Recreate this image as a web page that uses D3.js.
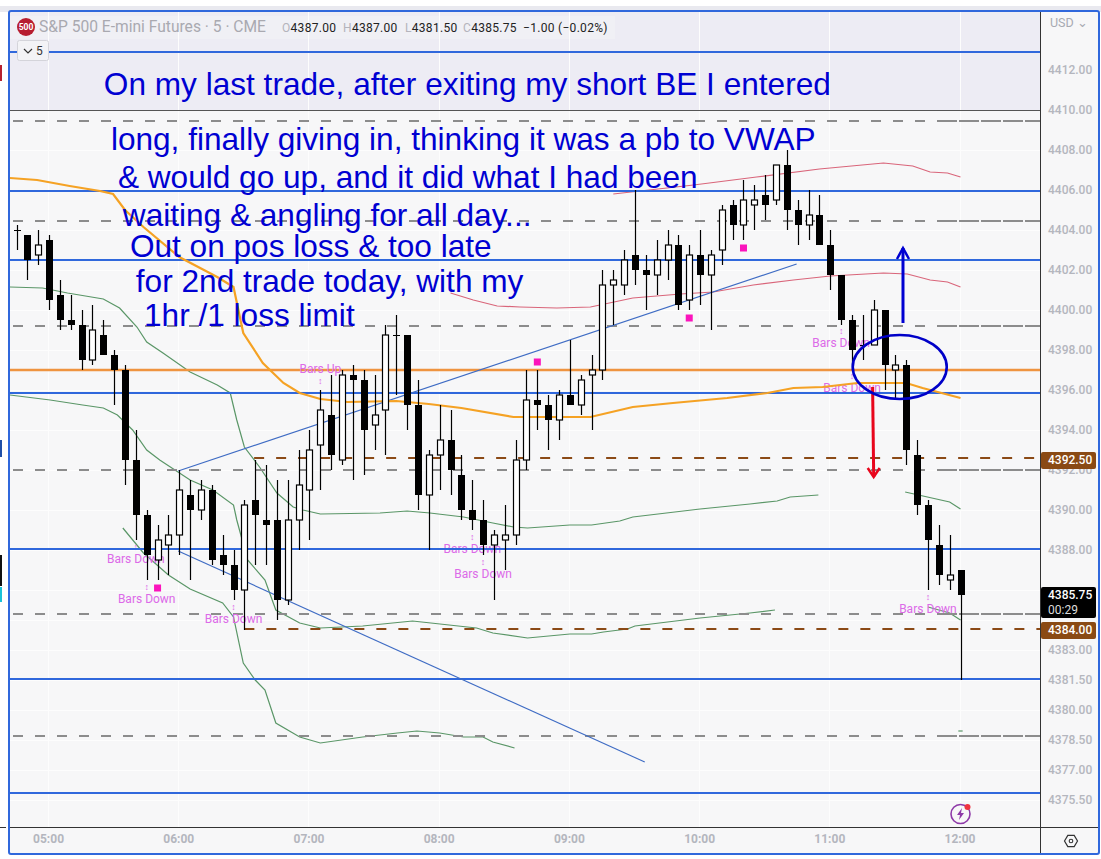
<!DOCTYPE html>
<html>
<head>
<meta charset="utf-8">
<script src="https://cdn.jsdelivr.net/npm/d3@7"></script>
<style>
    html, body { margin: 0; padding: 0; background: #fff; overflow: hidden; }
    svg { display: block; }
    text { font-family: Roboto, "Liberation Sans", sans-serif; }
    .note { font-family: "Liberation Sans", Arial, sans-serif; fill: #0000d2; font-size: 31.6px; }
    .signal { fill: #dc6ae8; font-size: 12px; text-anchor: middle; dominant-baseline: middle; }
</style>
</head>
<body>
<svg class="chart" width="1101" height="859"></svg>
<script>

// candles, 5 min bars, first one is 04:45
const bar_open = [4404,4403.75,4402.75,4403.5,4400.75,4399.5,4399.25,4397.5,4398.75,4397.75,4397,4392.5,4389.75,4387.5,4388.25,4388.75,4390.75,4390,4391,4387.75,4387.25,4386,4390.5,4389.5,4389.5,4385.5,4389.5,4391,4393.25,4394.75,4392.5,4396.75,4396.5,4394.25,4395,4398.75,4398.75,4395.25,4390.75,4392.75,4393.5,4391.75,4390,4389.5,4388.25,4388.5,4388.75,4392.5,4395.5,4395.25,4394.5,4395.75,4395.25,4396.75,4397,4401.25,4401.25,4402.75,4402,4401.75,4402.5,4403.25,4400.5,4402.75,4401.75,4403,4405.25,4404.25,4405.25,4405.75,4405.5,4407.25,4405,4404.25,4404.75,4403.25,4401.75,4399.5,4398.25,4398.25,4400,4397,4397.25,4392.75,4390.25,4388.25,4386.5,4387];
const bar_high = [4404.25,4403.75,4404,4403.75,4401.5,4400.75,4400,4400.25,4399.5,4398,4397.25,4394,4390,4389.25,4389.75,4392,4391.5,4391.5,4391.25,4388.75,4388,4390.5,4392.5,4392.25,4391.5,4391.5,4393,4394,4396,4396.75,4397,4397.25,4397,4396.75,4399.25,4399.75,4398.75,4396.5,4393,4395.25,4395,4392.75,4391.5,4390.5,4389,4390.25,4393.5,4397,4397,4395.75,4396,4398.5,4396.75,4397.75,4402,4402,4403,4406,4402.75,4403.5,4404,4403.75,4403.25,4404,4403,4405.25,4405.5,4406.5,4406.25,4406.75,4407.25,4408,4405.5,4406,4405.75,4404,4401.75,4399.75,4399.75,4400.5,4400,4397.75,4397.5,4393.5,4390.5,4389.25,4388.75,4387];
const bar_low = [4403,4401.5,4402.25,4400,4399,4399,4397,4397.25,4397.75,4395.25,4391.25,4388.5,4386.5,4386.5,4386.75,4387.75,4386.5,4389.5,4387.25,4386.75,4385.5,4384,4387.25,4387.25,4384.5,4385.25,4388,4388.5,4391,4392,4392.25,4391.5,4391.75,4393,4392.75,4395.75,4394,4390,4388,4391,4390.75,4389.5,4389,4387.75,4385.5,4387,4388.25,4392,4394,4393,4393.5,4395.25,4394.75,4394,4396.5,4399.25,4400.75,4401.25,4400,4400.75,4401.5,4400,4400,4400.25,4399,4402.25,4403.5,4403.5,4404,4404.5,4405.25,4404,4403.25,4403.5,4403.25,4401,4399.25,4397,4397.5,4398.25,4396,4395.5,4392.25,4389.75,4386,4386.25,4386,4381.5];
const bar_close = [4404,4402.5,4403.25,4400.5,4399.5,4399.25,4397.5,4399,4397.75,4397,4392.5,4389.75,4387.75,4388.5,4388.75,4391,4390,4391,4387.5,4387.25,4386,4390.25,4389.75,4389.25,4385.5,4389.5,4391.25,4393,4395,4392.75,4396.75,4396.5,4394,4394.75,4398.75,4398.75,4395.25,4390.75,4392.75,4393.5,4392,4390,4389.5,4388.25,4388.75,4388.75,4392.5,4395.5,4395.25,4394.5,4395.75,4395.25,4396.5,4397,4401.25,4401.5,4402.5,4402,4401.75,4402.5,4403.25,4400.25,4402.75,4401.75,4402.75,4405,4404.25,4405.5,4405.5,4405.25,4407.25,4405,4404.25,4404.75,4403.25,4401.75,4399.5,4398,4398.25,4400,4397.25,4397.25,4393,4390.25,4388.5,4386.75,4386.75,4385.75];

// indicators, read as [bar, price]
const vwap_line = [[-0.6,4406.6],[1.9,4406.5],[4.9,4406.2],[7.7,4405.95],[8.9,4405.8],[10,4405],[11.7,4404.15],[15,4402.65],[18.5,4401.65],[20,4401.15],[20.9,4398.85],[22.7,4397.35],[24.6,4396.35],[26.1,4395.85],[28,4395.55],[30.5,4395.4],[35,4395.45],[38,4395.3],[41,4395.1],[45.8,4394.65],[49.8,4394.65],[52.9,4394.65],[56.8,4395.15],[60.5,4395.35],[65.5,4395.6],[69.2,4395.85],[71.6,4396.1],[74.3,4396.15],[77.5,4396.35],[82,4396.35],[83.5,4396.1],[87,4395.6]];
const green_upper = [[-0.6,4401.15],[2.4,4401.1],[4.7,4400.85],[8,4400.55],[9.5,4400.1],[11.1,4399.15],[12,4398.4],[13.5,4397.85],[16,4396.9],[18.5,4396.25],[19.7,4395.85],[20.3,4394.5],[21,4393.15],[22.4,4392.15],[24,4390.85],[25.5,4390.15],[26.4,4390],[28,4389.8],[33.5,4389.85],[36,4389.95],[38.1,4389.85],[41.2,4389.65],[43.9,4389.35],[45.8,4389.15],[47.1,4389.1],[51,4389.25],[53,4389.25],[55.6,4389.45],[56.8,4389.65],[63,4390.05],[67.6,4390.3],[70.1,4390.45],[71.3,4390.65],[73.9,4390.75]];
const green_upper_end = [[81.9,4390.9],[86,4390.4],[87,4390.05]];
const green_mid = [[-0.6,4395.75],[3.1,4395.5],[6.1,4395.25],[8,4395.1],[9.3,4394.75],[10.7,4394],[12,4393],[13.2,4392.5],[16,4391.5],[18.1,4391],[20,4390.25],[20.3,4389.5],[21.3,4387.5],[22.9,4386.5],[23.9,4385],[26.1,4384.35],[28,4384.1],[31.9,4384.2],[36.5,4384.45],[42.4,4384.1],[43.9,4383.85],[47.1,4383.6],[51,4383.8],[53,4383.8],[54.1,4383.9],[56.3,4384.05],[57,4384.2],[63,4384.6],[67.6,4384.85],[69.9,4385]];
const green_mid_end = [[84,4385.15],[86,4384.85],[87,4384.5]];
const green_lower = [[9.8,4389.1],[11.7,4387.85],[14,4386.75],[16,4386.05],[19,4385.35],[20,4384.65],[20.9,4382.35],[22,4381.5],[22.9,4381],[23.9,4379.35],[26.1,4378.65],[28,4378.35],[31.9,4378.65],[35.1,4378.85],[36.9,4378.95],[39,4378.85],[41.2,4378.65],[43,4378.65],[43.9,4378.4],[45.9,4378.1]];
const green_lower_end = [[86.8,4378.95],[87.2,4378.95]];
const red_upper = [[55,4405.8],[62.4,4406.25],[68.2,4406.65],[74,4407.05],[79.9,4407.35],[82.6,4407.2],[84.2,4406.9],[85.8,4406.85],[87,4406.65]];
const red_lower = [[40,4400.85],[42.1,4400.5],[44.3,4400.2],[46.4,4400.15],[49.8,4400.1],[52.9,4400.15],[56.8,4400.6],[61.2,4400.8],[64.2,4400.9],[67.9,4401.25],[71.6,4401.5],[75,4401.7],[79.9,4401.85],[82.1,4401.8],[84.2,4401.5],[85.8,4401.4],[87,4401.15]];

// hand drawn levels
const blue_levels = [4412.9, 4405.95, 4402.5, 4395.85, 4388.05, 4381.55, 4375.85];
const gray_levels = [4409.45, 4404.45, 4399.2, 4392, 4384.8, 4378.7];
const orange_level = 4397;
const brown_levels = [[4392.6, 21.9], [4384.05, 21]];   // price, first bar
const trend_up = [[14.9,4391.95],[71.9,4402.3]];
const trend_down = [[14.9,4387.95],[57.9,4377.4]];

// script signals
const signal_labels = [
    ['Bars Down',11,4387.5],['Bars Down',12,4385.5],['Bars Down',20,4384.5],['Bars Up',28,4397],
    ['Bars Down',42,4388],['Bars Down',43,4386.75],['Bars Down',76,4398.3],['Bars Down',77,4396.05],['Bars Down',84,4385]
];
const pink_squares = [[13,4386.1],[48,4397.4],[62,4399.6],[67,4403.1]];

// text notes: text, bar, baseline price
const notes = [
    ['On my last trade, after exiting my short BE I entered', 8.05, 4410.75],
    ['long, finally giving in, thinking it was a pb to VWAP', 8.7, 4408],
    ['& would go up, and it did what I had been', 9.35, 4406.1],
    ['waiting & angling for all day...', 9.8, 4404.2],
    ['Out on pos loss & too late', 10.45, 4402.65],
    ['for 2nd trade today, with my', 11, 4400.9],
    ['1hr /1 loss limit', 11.75, 4399.2]
];
const arrow_up = [[81.7,4399.35],[81.7,4403.1]];
const arrow_down = [[78.9,4396.15],[79,4391.65]];
const ellipse_mark = [81.4, 4397.15];

const price_ticks = [4412,4410,4408,4406,4404,4402,4400,4398,4396,4394,4392,4390,4388,4383,4381.5,4380,4378.5,4377,4375.5];
const grid_prices = [4408,4406,4404,4402,4400,4398,4396,4394,4392,4390,4388,4386,4384.5,4383,4381.5,4380,4378.5,4377,4375.5];
const time_bars = [3,15,27,39,51,63,75,87];
const time_labels = ['05:00','06:00','07:00','08:00','09:00','10:00','11:00','12:00'];
const price_tags = [[4392.5,'#8a4a14'],[4384,'#8a4a14']];
const last_price = 4385.75;
const legend_values = [['O','4387.00',282],['H','4387.00',343],['L','4381.50',405],['C','4385.75',463]];

const frame = { l: 10, r: 1098, t: 12, b: 853, axis_x: 1040, axis_y: 827, top_panel: 110 };

const svg = d3.select('.chart');

const x = d3.scaleLinear().domain([0, 87]).range([16.5, 960.5]);
const y = d3.scaleLinear().domain([4406, 4376]).range([190, 790]);

const line = d3.line().x(d => x(d[0])).y(d => y(d[1]));

// page background and frame
svg.append('rect').attr('x', 0).attr('y', 6).attr('width', 1101).attr('height', 6).attr('fill', '#e9e9ef');
svg.append('rect').attr('x', 0).attr('y', 12).attr('width', 8).attr('height', 847).attr('fill', '#fff');
[[65,16,'#b8212e'],[440,17,'#1f4fa8'],[555,31,'#111'],[587,15,'#19c2d8']].forEach(d => {
    svg.append('rect').attr('x', 0).attr('y', d[0]).attr('width', 2).attr('height', d[1]).attr('fill', d[2]);
});
svg.append('rect').attr('x', frame.l).attr('y', frame.t).attr('width', frame.r - frame.l).attr('height', frame.b - frame.t).attr('fill', '#f7f7f8');
svg.append('rect').attr('x', frame.l).attr('y', frame.t).attr('width', frame.axis_x - frame.l).attr('height', frame.top_panel - frame.t).attr('fill', '#edecf4');
svg.append('rect').attr('x', frame.l).attr('y', frame.t + 4).attr('width', 605).attr('height', 23).attr('fill', '#f0f0f5');

// grid
const grid = svg.append('g').attr('stroke', '#fdfdfd').attr('stroke-width', 1);
grid.selectAll('line.v').data(time_bars).join('line').attr('class', 'v')
    .attr('x1', d => Math.round(x(d)) - 0.5).attr('x2', d => Math.round(x(d)) - 0.5)
    .attr('y1', frame.t).attr('y2', frame.axis_y);
grid.selectAll('line.h').data(grid_prices).join('line').attr('class', 'h')
    .attr('x1', frame.l).attr('x2', frame.axis_x)
    .attr('y1', d => Math.round(y(d)) + 0.5).attr('y2', d => Math.round(y(d)) + 0.5);

// indicators
[green_upper, green_upper_end, green_mid, green_mid_end, green_lower, green_lower_end].forEach(d => {
    svg.append('path').attr('d', line(d)).attr('fill', 'none').attr('stroke', '#5a9667').attr('stroke-width', 1.2);
});
[red_upper, red_lower].forEach(d => {
    svg.append('path').attr('d', line(d)).attr('fill', 'none').attr('stroke', '#d9657a').attr('stroke-width', 1.2);
});

// levels
svg.selectAll('line.gray').data(gray_levels).join('line').attr('class', 'gray')
    .attr('x1', 13).attr('x2', frame.axis_x)
    .attr('y1', d => y(d)).attr('y2', d => y(d))
    .attr('stroke', '#8c8c8c').attr('stroke-width', 2).attr('stroke-dasharray', '10 12');
svg.selectAll('line.gray2').data(gray_levels).join('line').attr('class', 'gray2')
    .attr('x1', 937).attr('x2', frame.axis_x)
    .attr('y1', d => y(d)).attr('y2', d => y(d))
    .attr('stroke', '#8c8c8c').attr('stroke-width', 2).attr('stroke-dasharray', '20 2');
svg.selectAll('line.brown').data(brown_levels).join('line').attr('class', 'brown')
    .attr('x1', d => x(d[1])).attr('x2', frame.axis_x)
    .attr('y1', d => y(d[0])).attr('y2', d => y(d[0]))
    .attr('stroke', '#8b4a16').attr('stroke-width', 2).attr('stroke-dasharray', '10 12');
svg.append('line').attr('x1', frame.l).attr('x2', frame.axis_x)
    .attr('y1', y(orange_level)).attr('y2', y(orange_level))
    .attr('stroke', '#ef9440').attr('stroke-width', 2.4);

// signals go under the candles
svg.selectAll('text.signal').data(signal_labels).join('text').attr('class', 'signal')
    .attr('x', d => x(d[1])).attr('y', d => y(d[2]))
    .text(d => d[0]);
svg.selectAll('text.signal_mark').data(signal_labels).join('text').attr('class', 'signal signal_mark')
    .attr('x', d => x(d[1])).attr('y', d => y(d[2]) + (d[0] == 'Bars Up' ? 12 : -12))
    .style('font-size', '9px')
    .text('↕');

svg.selectAll('line.blue').data(blue_levels).join('line').attr('class', 'blue')
    .attr('x1', frame.l).attr('x2', frame.axis_x)
    .attr('y1', d => y(d)).attr('y2', d => y(d))
    .attr('stroke', '#3068dc').attr('stroke-width', 2.2);

[trend_up, trend_down].forEach(d => {
    svg.append('path').attr('d', line(d)).attr('fill', 'none').attr('stroke', '#3f6cc4').attr('stroke-width', 1.2);
});
svg.append('path').attr('d', line(vwap_line)).attr('fill', 'none').attr('stroke', '#f5a224').attr('stroke-width', 2.2);

svg.selectAll('rect.square').data(pink_squares).join('rect').attr('class', 'square')
    .attr('x', d => x(d[0]) - 3.5).attr('y', d => y(d[1]) - 3.5)
    .attr('width', 7).attr('height', 7).attr('fill', '#fb14bc');

// candles
const bars = d3.range(bar_open.length);
const candles = svg.append('g');

candles.selectAll('line').data(bars).join('line')
    .attr('x1', i => Math.round(x(i)) + 0.5).attr('x2', i => Math.round(x(i)) + 0.5)
    .attr('y1', i => y(bar_high[i])).attr('y2', i => y(bar_low[i]))
    .attr('stroke', '#000').attr('stroke-width', 1.2);

candles.selectAll('rect').data(bars).join('rect')
    .attr('x', i => Math.round(x(i)) - 3 + (bar_close[i] > bar_open[i] ? 0.5 : 0))
    .attr('width', i => bar_close[i] > bar_open[i] ? 6 : 7)
    .attr('y', i => y(Math.max(bar_open[i], bar_close[i])))
    .attr('height', i => Math.max(1, Math.abs(y(bar_open[i]) - y(bar_close[i]))))
    .attr('fill', i => bar_close[i] > bar_open[i] ? '#fff' : '#000')
    .attr('stroke', i => bar_close[i] > bar_open[i] ? '#000' : 'none')
    .attr('stroke-width', 1.2);

// pane lines
svg.append('line').attr('x1', frame.l).attr('x2', frame.axis_x).attr('y1', frame.top_panel + 0.5).attr('y2', frame.top_panel + 0.5).attr('stroke', '#555');
svg.append('line').attr('x1', frame.axis_x + 0.5).attr('x2', frame.axis_x + 0.5).attr('y1', frame.t).attr('y2', frame.b).attr('stroke', '#333');
svg.append('line').attr('x1', frame.l).attr('x2', frame.r).attr('y1', frame.axis_y + 0.5).attr('y2', frame.axis_y + 0.5).attr('stroke', '#333');
svg.append('line').attr('x1', 0).attr('x2', 6).attr('y1', frame.axis_y + 0.5).attr('y2', frame.axis_y + 0.5).attr('stroke', '#333');

// axes
const y_axis = d3.axisRight(y).tickValues(price_ticks).tickSize(0).tickPadding(0).tickFormat(d3.format('.2f'));
const g_y = svg.append('g').attr('transform', `translate(${frame.axis_x + 8},0)`).call(y_axis);
g_y.select('.domain').remove();
g_y.selectAll('text').attr('fill', '#b4b6be').style('font-size', '12px').style('font-weight', 500);

const x_axis = d3.axisBottom(x).tickValues(time_bars).tickSize(0).tickPadding(0).tickFormat((d, i) => time_labels[i]);
const g_x = svg.append('g').attr('transform', `translate(-1,${frame.axis_y + 7})`).call(x_axis);
g_x.select('.domain').remove();
g_x.selectAll('text').attr('fill', '#b4b6be').style('font-size', '12px').style('font-weight', 700);

// price tags
price_tags.forEach(d => {
    svg.append('rect').attr('x', frame.axis_x + 1).attr('y', y(d[0]) - 8).attr('width', 55).attr('height', 17).attr('rx', 2).attr('fill', d[1]);
    svg.append('text').attr('x', frame.axis_x + 8).attr('y', y(d[0]) + 0.5).attr('dominant-baseline', 'middle')
        .attr('fill', '#fff').style('font-size', '12px').style('font-weight', 500).text(d3.format('.2f')(d[0]));
});
svg.append('rect').attr('x', frame.axis_x + 1).attr('y', y(last_price) - 8).attr('width', 55).attr('height', 31).attr('rx', 2).attr('fill', '#000');
svg.append('text').attr('x', frame.axis_x + 8).attr('y', y(last_price) + 0.5).attr('dominant-baseline', 'middle')
    .attr('fill', '#fff').style('font-size', '12px').style('font-weight', 500).text(d3.format('.2f')(last_price));
svg.append('text').attr('x', frame.axis_x + 8).attr('y', y(last_price) + 15.5).attr('dominant-baseline', 'middle')
    .attr('fill', '#ddd').style('font-size', '12px').text('00:29');

svg.append('text').attr('x', 1050).attr('y', 27).attr('fill', '#a8aab2').style('font-size', '12.5px').text('USD ⌄');

// legend
svg.append('circle').attr('cx', 26).attr('cy', 27).attr('r', 9).attr('fill', '#b71d30');
svg.append('text').attr('x', 26).attr('y', 30).attr('text-anchor', 'middle').attr('fill', '#fff')
    .style('font-size', '8.5px').style('font-weight', 700).text('500');
svg.append('text').attr('x', 39).attr('y', 32).attr('fill', '#a9a9b0').style('font-size', '15.6px')
    .text('S&P 500 E-mini Futures · 5 · CME');
legend_values.forEach(d => {
    const t = svg.append('text').attr('x', d[2]).attr('y', 32).style('font-size', '12px').style('letter-spacing', '0.3px');
    t.append('tspan').attr('fill', '#b4b4bc').text(d[0]);
    t.append('tspan').attr('fill', '#222').text(d[1]);
});
svg.append('text').attr('x', 523).attr('y', 32).attr('fill', '#222').style('font-size', '12px').style('letter-spacing', '0.3px').text('−1.00 (−0.02%)');

svg.append('rect').attr('x', 17.5).attr('y', 40.5).attr('width', 31).attr('height', 20).attr('rx', 2).attr('fill', '#f3f3f6').attr('stroke', '#d4d4da');
svg.append('path').attr('d', 'M24 49 L28 53 L32 49').attr('fill', 'none').attr('stroke', '#333').attr('stroke-width', 1.2);
svg.append('text').attr('x', 36).attr('y', 55).attr('fill', '#333').style('font-size', '12px').text('5');

// text notes and drawings on top
svg.selectAll('text.note').data(notes).join('text').attr('class', 'note')
    .attr('x', d => x(d[1])).attr('y', d => y(d[2]))
    .text(d => d[0]);

svg.append('path').attr('d', line(arrow_up)).attr('fill', 'none').attr('stroke', '#0000d2').attr('stroke-width', 3);
svg.append('path').attr('d', `M${x(arrow_up[1][0]) - 6} ${y(arrow_up[1][1]) + 11} L${x(arrow_up[1][0])} ${y(arrow_up[1][1])} L${x(arrow_up[1][0]) + 6} ${y(arrow_up[1][1]) + 11}`)
    .attr('fill', 'none').attr('stroke', '#0000d2').attr('stroke-width', 2.5);
svg.append('path').attr('d', line(arrow_down)).attr('fill', 'none').attr('stroke', '#e8061c').attr('stroke-width', 3);
svg.append('path').attr('d', `M${x(arrow_down[1][0]) - 6} ${y(arrow_down[1][1]) - 9} L${x(arrow_down[1][0])} ${y(arrow_down[1][1])} L${x(arrow_down[1][0]) + 6} ${y(arrow_down[1][1]) - 9}`)
    .attr('fill', 'none').attr('stroke', '#e8061c').attr('stroke-width', 2.5);
svg.append('ellipse').attr('cx', x(ellipse_mark[0])).attr('cy', y(ellipse_mark[1])).attr('rx', 47).attr('ry', 32)
    .attr('fill', 'none').attr('stroke', '#0000c8').attr('stroke-width', 2.6);

// lightning badge under the last bar
const badge = svg.append('g').attr('transform', `translate(${x(87)},814)`);
badge.append('circle').attr('r', 9.5).attr('fill', 'none').attr('stroke', '#8e3aa8').attr('stroke-width', 1.6);
badge.append('path').attr('d', 'M1.5 -6 L-3.5 1 L-0.5 1 L-1.5 6 L3.5 -1 L0.5 -1 Z').attr('fill', '#8e3aa8');
badge.append('circle').attr('cx', 7).attr('cy', -7).attr('r', 3).attr('fill', '#ef3340');

// settings hexagon
const hex = svg.append('g').attr('transform', 'translate(1071,841)');
hex.append('path').attr('d', 'M-6.5 0 L-3.2 -5.6 L3.2 -5.6 L6.5 0 L3.2 5.6 L-3.2 5.6 Z').attr('fill', 'none').attr('stroke', '#333').attr('stroke-width', 1.2);
hex.append('circle').attr('r', 1.8).attr('fill', 'none').attr('stroke', '#333').attr('stroke-width', 1.1);

// frame last, over everything
svg.append('rect').attr('x', frame.l - 1).attr('y', frame.t - 1).attr('width', frame.r - frame.l + 2).attr('height', frame.b - frame.t + 2).attr('rx', 2)
    .attr('fill', 'none').attr('stroke', '#3068dc').attr('stroke-width', 2);

</script>
</body>
</html>
